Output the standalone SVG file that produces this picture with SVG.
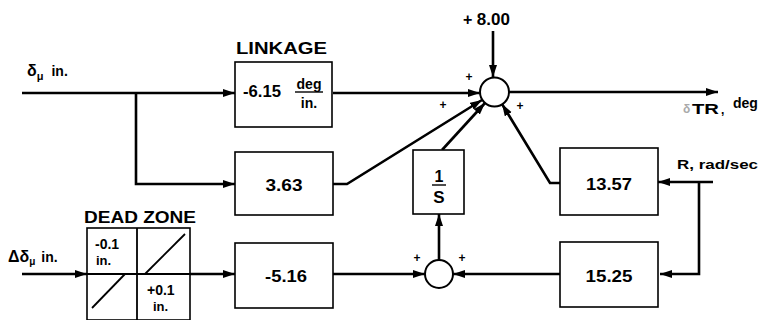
<svg xmlns="http://www.w3.org/2000/svg" width="763" height="320" viewBox="0 0 763 320">
<style>
.box{fill:#fff;stroke:#000;stroke-width:1.6}
.sum{fill:#fff;stroke:#000;stroke-width:2}
.ln{fill:none;stroke:#000;stroke-width:2.6}
.thin{fill:none;stroke:#000;stroke-width:1.8}
text{font-family:"Liberation Sans",Arial,sans-serif;font-weight:bold;fill:#000}
.num{font-size:17px;text-anchor:middle}
.lbl{font-size:16px}
.sm{font-size:13px}
.pl{font-size:12px;text-anchor:middle}
</style>
<defs>
<marker id="ah" markerUnits="userSpaceOnUse" markerWidth="13" markerHeight="9" refX="12" refY="4" orient="auto">
<path d="M0,0 L12,4 L0,8 z" fill="#000"/>
</marker>
</defs>
<rect width="763" height="320" fill="#fff"/>
<g id="connectors">
<path class="ln" d="M22,93 H235" marker-end="url(#ah)"/>
<path class="ln" d="M136,93 V184 H235" marker-end="url(#ah)"/>
<path class="ln" d="M333,93 H480" marker-end="url(#ah)"/>
<path class="ln" d="M493,31 V77" marker-end="url(#ah)"/>
<path class="ln" d="M333,184 H347 L482,100" marker-end="url(#ah)"/>
<path class="ln" d="M442,150 L485,103" marker-end="url(#ah)"/>
<path class="ln" d="M560,183 H550 L502,104" marker-end="url(#ah)"/>
<path class="ln" d="M509,92 H718" marker-end="url(#ah)"/>
<path class="ln" d="M713,182 H658" marker-end="url(#ah)"/>
<path class="ln" d="M699,182 V274 H660" marker-end="url(#ah)"/>
<path class="ln" d="M560,274 H453" marker-end="url(#ah)"/>
<path class="ln" d="M333,274 H425" marker-end="url(#ah)"/>
<path class="ln" d="M439,260 V214" marker-end="url(#ah)"/>
<path class="ln" d="M22,274 H87" marker-end="url(#ah)"/>
<path class="ln" d="M190,274 H235" marker-end="url(#ah)"/>
</g>
<g id="input-top">
<text class="lbl" x="27" y="76">δ<tspan font-size="11" dy="4">μ</tspan><tspan dy="-4" dx="8" font-size="14">in.</tspan></text>
</g>
<g id="linkage">
<text class="lbl" x="236" y="54" textLength="91" lengthAdjust="spacingAndGlyphs">LINKAGE</text>
<rect class="box" x="235" y="62" width="97" height="65"/>
<text class="num" x="262" y="97" textLength="38" lengthAdjust="spacingAndGlyphs">-6.15</text>
<text x="309" y="89" font-size="14" text-anchor="middle">deg</text>
<line x1="295" y1="92" x2="323" y2="92" stroke="#000" stroke-width="1.4"/>
<text x="309" y="108" font-size="14" text-anchor="middle">in.</text>
</g>
<g id="gain-363">
<rect class="box" x="235" y="152" width="98" height="63"/>
<text class="num" x="284" y="191" textLength="37" lengthAdjust="spacingAndGlyphs">3.63</text>
</g>
<g id="sum-top">
<circle class="sum" cx="494.5" cy="92" r="14.5"/>
<text class="pl" x="469" y="81">+</text>
<text class="pl" x="443" y="109">+</text>
<text class="pl" x="520" y="110">+</text>
<text class="lbl" x="463" y="25">+ <tspan font-size="17">8.00</tspan></text>
</g>
<g id="output">
<text x="683" y="113" font-size="12" style="fill:#aaa">δ</text>
<text x="692" y="114" font-size="15" textLength="27" lengthAdjust="spacingAndGlyphs">TR</text>
<text x="721" y="114" font-size="12">,</text>
<text x="733" y="108" font-size="14">deg</text>
</g>
<g id="integrator">
<rect class="box" x="413" y="150" width="51" height="64"/>
<text class="lbl" x="439" y="182" text-anchor="middle">1</text>
<line x1="432" y1="185" x2="446" y2="185" stroke="#000" stroke-width="1.4"/>
<text class="num" x="439" y="203">S</text>
</g>
<g id="gain-1357">
<rect class="box" x="560" y="148" width="98" height="67"/>
<text class="num" x="609" y="190" textLength="46" lengthAdjust="spacingAndGlyphs">13.57</text>
</g>
<g id="r-label">
<text class="sm" x="677" y="169" textLength="81" lengthAdjust="spacingAndGlyphs">R, rad/sec</text>
</g>
<g id="gain-1525">
<rect class="box" x="560" y="242" width="98" height="65"/>
<text class="num" x="609" y="282" textLength="47" lengthAdjust="spacingAndGlyphs">15.25</text>
</g>
<g id="sum-bottom">
<circle class="sum" cx="439" cy="274" r="14"/>
<text class="pl" x="417" y="262">+</text>
<text class="pl" x="462" y="262">+</text>
</g>
<g id="gain-516">
<rect class="box" x="235" y="243" width="98" height="65"/>
<text class="num" x="286" y="282" textLength="42" lengthAdjust="spacingAndGlyphs">-5.16</text>
</g>
<g id="input-bottom">
<text class="lbl" x="8" y="262">Δδ<tspan font-size="10" dy="3">μ</tspan><tspan dy="-3" dx="6" font-size="14">in.</tspan></text>
</g>
<g id="dead-zone">
<text class="lbl" x="84" y="223" textLength="112" lengthAdjust="spacingAndGlyphs">DEAD ZONE</text>
<rect class="box" x="87" y="228" width="103" height="92"/>
<line class="thin" x1="137" y1="228" x2="137" y2="320"/>
<line class="thin" x1="87" y1="274" x2="190" y2="274"/>
<line class="thin" x1="92" y1="308" x2="125" y2="274"/>
<line class="thin" x1="145" y1="274" x2="185" y2="234"/>
<text x="95" y="249" font-size="14">-0.1</text>
<text x="96" y="265" font-size="13">in.</text>
<text x="147" y="295" font-size="14">+0.1</text>
<text x="153" y="311" font-size="13">in.</text>
</g>
</svg>
